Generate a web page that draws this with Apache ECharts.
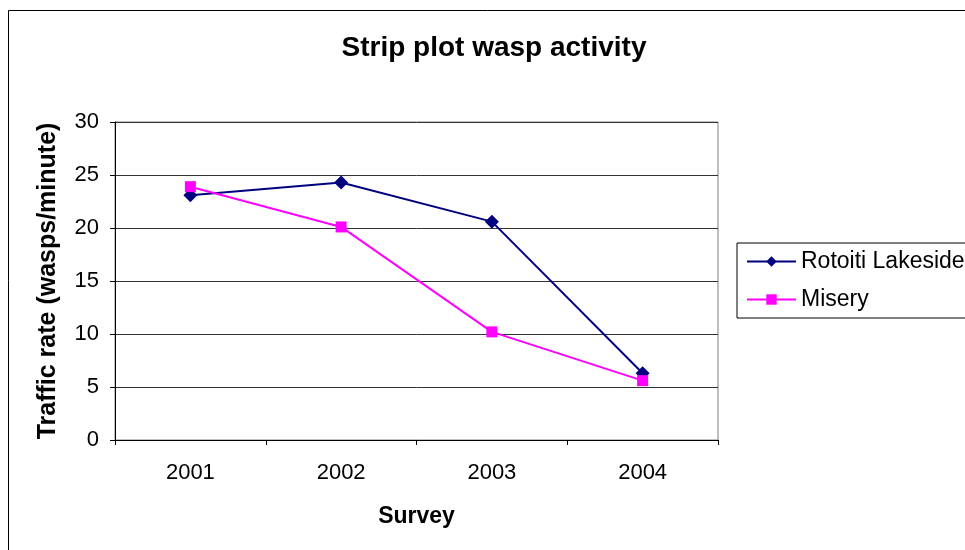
<!DOCTYPE html>
<html><head><meta charset="utf-8">
<script src="https://cdn.jsdelivr.net/npm/echarts@6/dist/echarts.min.js"></script>
<style>html,body{margin:0;padding:0;background:#fff}#c{width:965px;height:550px}</style>
</head><body><div id="c"></div>
<script>
var categories = ['2001', '2002', '2003', '2004'];
var rotoiti = [23.1, 24.3, 20.6, 6.3];
var misery = [23.9, 20.1, 10.2, 5.6];
var yTicks = [0, 5, 10, 15, 20, 25, 30];

var chart = echarts.init(document.getElementById('c'));
var F = 'Arial, "Liberation Sans", sans-serif';
chart.setOption({
  animation: false,
  backgroundColor: '#fff',
  title: {
    text: 'Strip plot wasp activity', left: 489, top: 29, textAlign: 'center',
    textStyle: { fontFamily: F, fontSize: 28, fontWeight: 'bold', color: '#000' }
  },
  graphic: [{
    type: 'rect', shape: { x: 8.5, y: 10.5, width: 1000, height: 600 },
    style: { fill: 'none', stroke: '#000', lineWidth: 1 }, z: -1
  }],
  legend: {
    orient: 'vertical', left: 737, top: 243,
    data: ['Rotoiti Lakeside', 'Misery'],
    borderColor: '#000', borderWidth: 1,
    padding: [7, 40, 7, 9], itemGap: 15,
    itemWidth: 49, itemHeight: 13,
    textStyle: { fontFamily: F, fontSize: 23, color: '#000' }
  },
  grid: {
    left: 115, top: 122, right: 247, bottom: 110,
    show: true, borderColor: '#808080', borderWidth: 1
  },
  xAxis: {
    type: 'category', data: categories, boundaryGap: true,
    name: 'Survey', nameLocation: 'middle', nameGap: 65,
    nameTextStyle: { fontFamily: F, fontSize: 23, fontWeight: 'bold', color: '#000' },
    axisLine: { lineStyle: { color: '#000', width: 1 } },
    axisTick: { show: true, inside: false, length: 5, lineStyle: { color: '#000' } },
    axisLabel: { fontFamily: F, fontSize: 22, color: '#000', margin: 22 }
  },
  yAxis: {
    type: 'value', min: 0, max: 30, interval: 5,
    name: 'Traffic rate (wasps/minute)', nameLocation: 'middle', nameGap: 54,
    nameTextStyle: { fontFamily: F, fontSize: 25, fontWeight: 'bold', color: '#000' },
    axisLine: { show: true, lineStyle: { color: '#000', width: 1 } },
    axisTick: { show: true, inside: false, length: 5, lineStyle: { color: '#000' } },
    axisLabel: { fontFamily: F, fontSize: 22, color: '#000', margin: 16,
      formatter: function (v) { return yTicks.indexOf(v) >= 0 ? String(v) : ''; } },
    splitLine: { show: true, lineStyle: { color: '#333', width: 1 } }
  },
  series: [
    { name: 'Rotoiti Lakeside', type: 'line', data: rotoiti,
      symbol: 'diamond', symbolSize: 14, showAllSymbol: true,
      itemStyle: { color: '#000080' }, lineStyle: { color: '#000080', width: 2 } },
    { name: 'Misery', type: 'line', data: misery,
      symbol: 'rect', symbolSize: 11, showAllSymbol: true,
      itemStyle: { color: '#FF00FF' }, lineStyle: { color: '#FF00FF', width: 2 } }
  ]
});
</script></body></html>
